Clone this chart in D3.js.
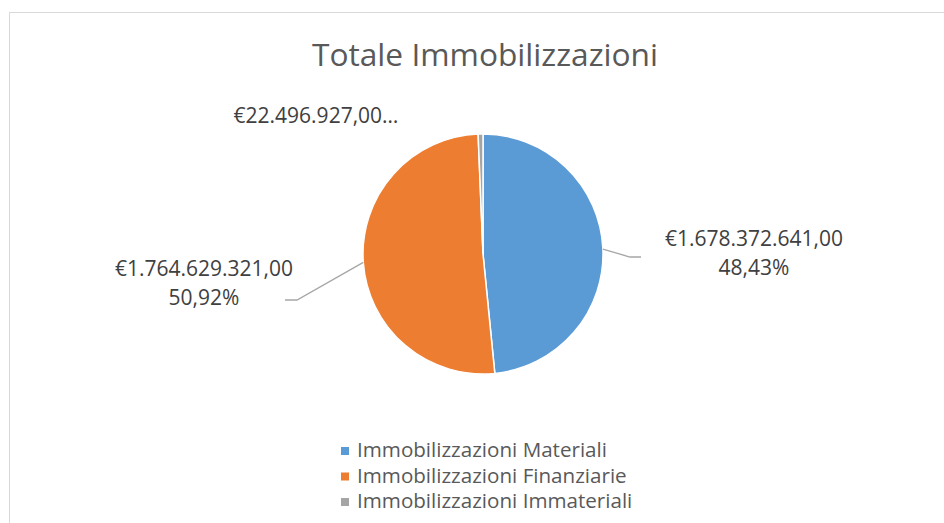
<!DOCTYPE html>
<html>
<head>
<meta charset="utf-8">
<script src="https://cdn.jsdelivr.net/npm/d3@7"></script>
<style>
  body { margin: 0; background: #fff; }
  svg text { font-family: "Open Sans", sans-serif; }
</style>
</head>
<body>
<svg id="chart" width="944" height="523"></svg>
<script>
// data
const categories = ['Immobilizzazioni Materiali', 'Immobilizzazioni Finanziarie', 'Immobilizzazioni Immateriali'];
const values = [1678372641, 1764629321, 22496927];
const valueLabels = ['€1.678.372.641,00', '€1.764.629.321,00', '€22.496.927,00…'];
const pctLabels = ['48,43%', '50,92%', ''];
const colors = ['#5B9BD5', '#ED7D31', '#A5A5A5'];

const svg = d3.select('#chart');
const width = 944, height = 523;

// chart frame
svg.append('rect')
    .attr('x', 9.5).attr('y', 12.5)
    .attr('width', width).attr('height', height)
    .attr('fill', '#fff')
    .attr('stroke', '#d9d9d9');

svg.append('text')
    .attr('x', 485).attr('y', 66)
    .attr('text-anchor', 'middle')
    .attr('font-size', 31.7)
    .attr('fill', '#595959')
    .text('Totale Immobilizzazioni');

const cx = 483, cy = 254, r = 120;
const pie = d3.pie().sort(null).value(d => d);
const arcs = pie(values);
const arc = d3.arc().innerRadius(0).outerRadius(r);

const g = svg.append('g').attr('transform', 'translate(' + cx + ',' + cy + ')');
g.selectAll('path').data(arcs).enter().append('path')
    .attr('d', arc)
    .attr('fill', (d, i) => colors[i])
    .attr('stroke', '#fff')
    .attr('stroke-width', 1.5);

// leader lines: point on pie edge, elbow, end
const leaders = [
    {ang: Math.PI / 2 - 0.04, elbow: [630, 257], end: [641, 257]},
    {ang: Math.PI * 1.5 - 0.07, elbow: [297, 300], end: [285, 300]}
];
leaders.forEach(l => {
    let p = [cx + r * Math.sin(l.ang), cy - r * Math.cos(l.ang)];
    svg.append('polyline')
        .attr('points', [p, l.elbow, l.end].map(q => q.join(',')).join(' '))
        .attr('fill', 'none')
        .attr('stroke', '#a6a6a6')
        .attr('stroke-width', 1.3);
});

// data labels
const labelPos = [[754, 246], [204, 276], [316, 123]];
labelPos.forEach((p, i) => {
    let t = svg.append('text')
        .attr('x', p[0]).attr('y', p[1])
        .attr('text-anchor', 'middle')
        .attr('font-size', 21)
        .attr('fill', '#404040');
    t.append('tspan').attr('x', p[0]).text(valueLabels[i]);
    if (pctLabels[i]) t.append('tspan').attr('x', p[0]).attr('dy', 29).text(pctLabels[i]);
});

// legend
const legend = svg.append('g');
const rows = legend.selectAll('g').data(categories).enter().append('g')
    .attr('transform', (d, i) => 'translate(341,' + (457 + i * 25.5) + ')');
rows.append('rect')
    .attr('x', 0).attr('y', -10)
    .attr('width', 8).attr('height', 8)
    .attr('fill', (d, i) => colors[i]);
rows.append('text')
    .attr('x', 16).attr('y', 0)
    .attr('font-size', 20.6)
    .attr('fill', '#595959')
    .text(d => d);
</script>
</body>
</html>
